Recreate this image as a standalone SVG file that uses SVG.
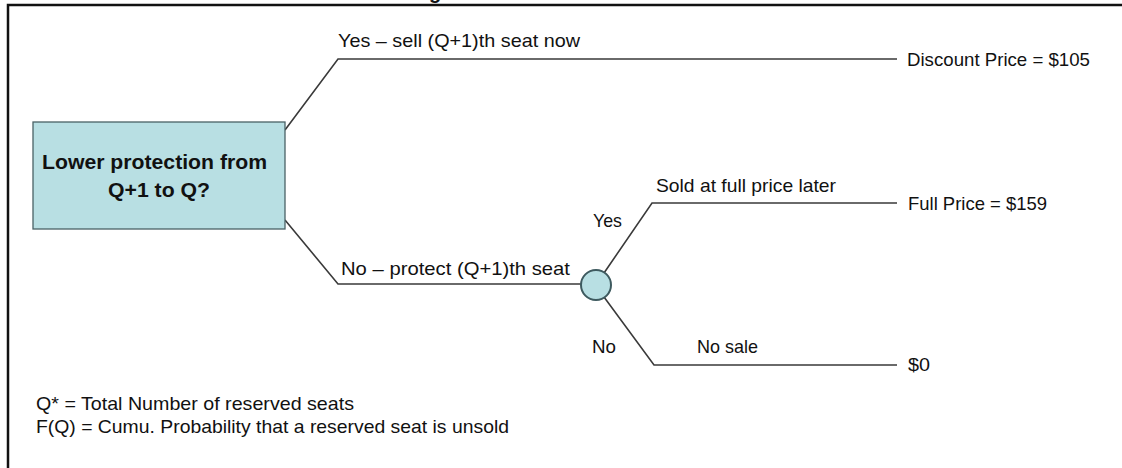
<svg xmlns="http://www.w3.org/2000/svg" width="1122" height="468" viewBox="0 0 1122 468">
<style>
  .lbl { font-family: "Liberation Sans", Arial, sans-serif; font-size: 19px; fill: #111111; }
  .bold { font-family: "Liberation Sans", Arial, sans-serif; font-size: 20px; font-weight: bold; fill: #111111; }
  .conn { fill: none; stroke: #3a3a3a; stroke-width: 1.6; }
  .node { fill: #b8dfe3; stroke: #4a6266; stroke-width: 1.3; }
  .chance { fill: #b8dfe3; stroke: #3e5a5f; stroke-width: 2; }
</style>
<rect x="0" y="0" width="1122" height="468" fill="#ffffff"/>
<text class="bold" x="429" y="-1" font-size="22">g</text>
<rect x="8" y="5" width="1130" height="480" fill="none" stroke="#111" stroke-width="2.5"/>

<g id="connectors">
  <polyline class="conn" points="285,130 338,59 897,59"/>
  <polyline class="conn" points="285,220 338,284 581,284"/>
  <polyline class="conn" points="604,273 652,203 897,203"/>
  <polyline class="conn" points="604,297 654,365 897,365"/>
</g>

<g id="decision">
  <rect class="node" x="33" y="122" width="252" height="107"/>
  <text class="bold" x="42" y="169" textLength="225" lengthAdjust="spacingAndGlyphs">Lower protection from</text>
  <text class="bold" x="108" y="197" textLength="102" lengthAdjust="spacingAndGlyphs">Q+1 to Q?</text>
</g>

<g id="chance">
  <circle class="chance" cx="596" cy="285" r="15"/>
</g>

<g id="labels">
  <text class="lbl" x="338" y="47" textLength="242" lengthAdjust="spacingAndGlyphs">Yes – sell (Q+1)th seat now</text>
  <text class="lbl" x="341" y="275" textLength="229" lengthAdjust="spacingAndGlyphs">No – protect (Q+1)th seat</text>
  <text class="lbl" x="656" y="192" textLength="180" lengthAdjust="spacingAndGlyphs">Sold at full price later</text>
  <text class="lbl" x="593" y="227" textLength="29" lengthAdjust="spacingAndGlyphs">Yes</text>
  <text class="lbl" x="592" y="353" textLength="24" lengthAdjust="spacingAndGlyphs">No</text>
  <text class="lbl" x="697" y="353" textLength="61" lengthAdjust="spacingAndGlyphs">No sale</text>
</g>

<g id="outcome-discount">
  <text class="lbl" x="907" y="66" textLength="183" lengthAdjust="spacingAndGlyphs">Discount Price = $105</text>
</g>
<g id="outcome-full">
  <text class="lbl" x="908" y="210" textLength="139" lengthAdjust="spacingAndGlyphs">Full Price = $159</text>
</g>
<g id="outcome-zero">
  <text class="lbl" x="908" y="371" textLength="22" lengthAdjust="spacingAndGlyphs">$0</text>
</g>

<g id="legend">
  <text class="lbl" x="36" y="410" textLength="318" lengthAdjust="spacingAndGlyphs">Q* = Total Number of reserved seats</text>
  <text class="lbl" x="36" y="433" textLength="473" lengthAdjust="spacingAndGlyphs">F(Q) = Cumu. Probability that a reserved seat is unsold</text>
</g>
</svg>
